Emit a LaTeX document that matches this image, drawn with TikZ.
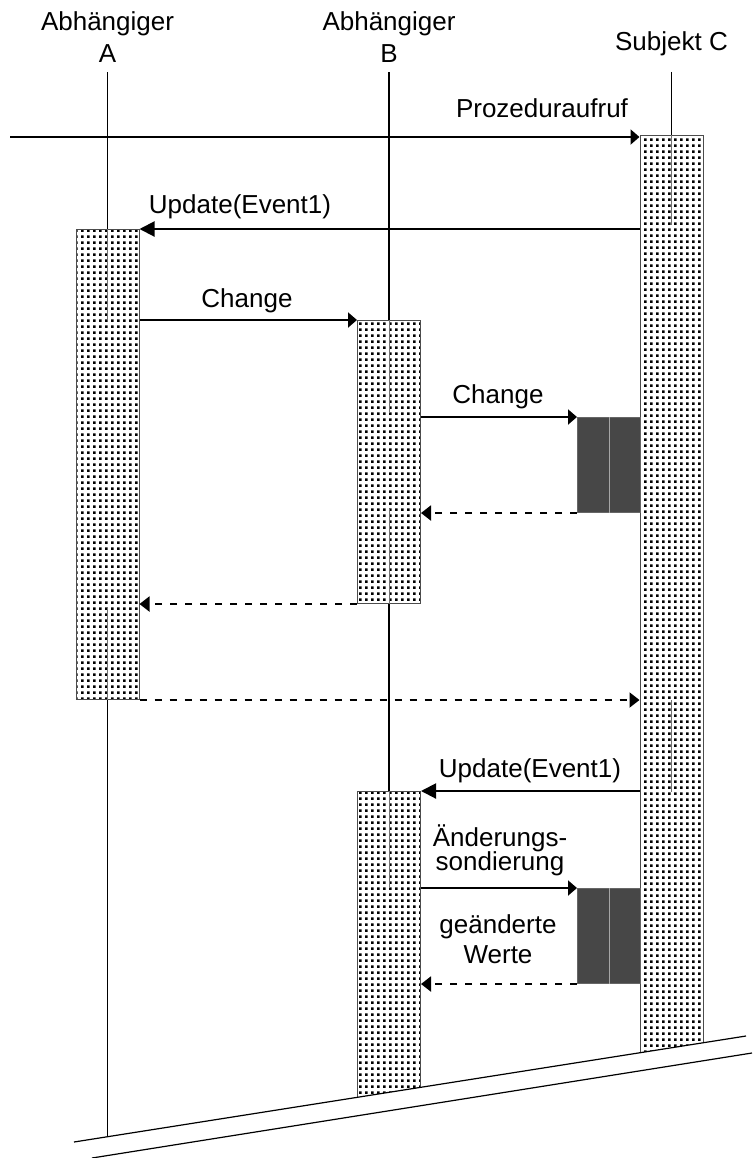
\documentclass[tikz,border=0pt]{standalone}
\usepackage{fontspec}
\setmainfont{Liberation Sans}
\usetikzlibrary{patterns,arrows.meta}

\pgfdeclarepatternformonly{bardots}{\pgfpointorigin}{\pgfpoint{2.9pt}{2.9pt}}{\pgfpoint{2.9pt}{2.9pt}}
{\pgfpathrectangle{\pgfpointorigin}{\pgfpoint{1.4pt}{1.4pt}}\pgfusepath{fill}}
\newcommand{\txtfont}[1]{\fontsize{13}{#1}\selectfont\lineskiplimit=-6pt\relax}

\begin{document}
\begin{tikzpicture}[x=0.5pt,y=-0.5pt,
  life/.style={line width=0.6pt},
  inbar/.style={line width=0.5pt, black!55},
  bar/.style={draw=black!70, line width=0.5pt, preaction={fill=white}, pattern=bardots,
    minimum width=31.5pt, inner sep=0pt, anchor=north},
  dark/.style={draw=black!60, line width=0.5pt, fill=black!72,
    minimum width=31.5pt, minimum height=47.5pt, inner sep=0pt, anchor=north west},
  call/.style={line width=1pt, -{Triangle[length=4.5pt,width=7.5pt]}},
  upd/.style={line width=1pt, -{Triangle[length=7.5pt,width=7.5pt]}},
  ret/.style={line width=1pt, dash pattern=on 3.5pt off 4pt, -{Triangle[length=5pt,width=7.5pt]}},
  txt/.style={font=\txtfont{16}, align=center, anchor=base, inner sep=0pt}
]
\useasboundingbox (0,0) rectangle (752,1158);

% Objekte (base = letzte Zeile)
\node[txt] (labA) at (107.5,62) {Abhängiger\\A};
\node[txt] (labB) at (389,62) {Abhängiger\\B};
\node[txt] (labC) at (671.5,50) {Subjekt C};
\coordinate (bot) at (0,1150);

\draw[life] ([yshift=-5pt]labA.south) -- (labA.south |- bot);
\draw[life] ([yshift=-5pt]labB.south) -- (labB.south |- bot);
\draw[life] ([yshift=-8pt]labC.south) -- (labC.south |- bot);

% Aktivierungen
\node[bar, minimum height=235pt] (barA) at (107.5,229) {};
\node[bar, minimum height=141.5pt] (barB1) at (389,320) {};
\node[bar, minimum height=159.5pt] (barB2) at (389,791) {};
\node[bar, minimum height=467.5pt] (barC) at (671.5,135) {};
\node[dark] (dk1) at (577,417) {};
\node[dark] (dk2) at (577,888) {};

\draw[inbar] (barA.north) -- ++(0,91);
\draw[inbar] (barA.south) -- ++(0,-93);
\draw[inbar] (barB1.north) -- ++(0,93);
\draw[inbar] (barB1.south) -- ++(0,-95);
\draw[inbar] (barB2.north) -- ++(0,97);
\draw[inbar] (barC.north) -- ++(0,90);
\draw[inbar] (barC.north) ++(0,565) -- ++(0,92);
\draw[gray!70, line width=0.5pt] (dk1.north) -- (dk1.south);
\draw[gray!70, line width=0.5pt] (dk2.north) -- (dk2.south);

% Nachrichten
\coordinate (src) at (10,137);
\draw[call] (src) -- (src -| barC.west);
\node[txt] (tProz) at (542,117) {Prozeduraufruf};

\draw[upd] (barC.west |- barA.north) -- (barA.north east);
\node[txt] (tUpd1) at (240,213) {Update(Event1)};

\draw[call] (barA.east |- barB1.north) -- (barB1.north west);
\node[txt] (tChg1) at (247,307) {Change};

\draw[call] (barB1.east |- dk1.north) -- (dk1.north west);
\node[txt] (tChg2) at (498,403) {Change};

\draw[ret] (dk1.south west) -- (barB1.east |- dk1.south);
\draw[ret] (barB1.south west) -- (barA.east |- barB1.south);
\draw[ret] (barA.south east) -- (barC.west |- barA.south);

\draw[upd] (barC.west |- barB2.north) -- (barB2.north east);
\node[txt] (tUpd2) at (530,777) {Update(Event1)};

\draw[call] (barB2.east |- dk2.north) -- (dk2.north west);
\node[txt, font=\txtfont{12}] (tAend) at (500,870) {Änderungs-\\sondierung};

\draw[ret] (dk2.south west) -- (barB2.east |- dk2.south);
\node[txt, font=\txtfont{15}] (tGeae) at (498,963) {geänderte\\Werte};

% Zeitachse
\coordinate (g1) at (74,1142);
\coordinate (g2) at (746,1036);
\coordinate (h1) at (92,1158);
\coordinate (h2) at (752,1053);
\fill[white] (g1) -- (g2) -- (752,1036) -- (752,1158) -- (74,1158) -- cycle;
\draw[life] (g1) -- (g2);
\draw[life] (h1) -- (h2);

\end{tikzpicture}
\end{document}
